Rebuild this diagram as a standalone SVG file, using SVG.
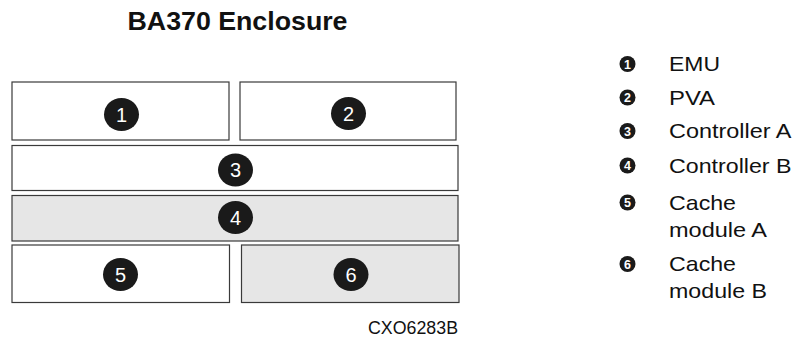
<svg xmlns="http://www.w3.org/2000/svg" width="803" height="338" viewBox="0 0 803 338">
<style>
.box{stroke:#3a3a3a;stroke-width:1.2}
.w{fill:#ffffff}
.g{fill:#e6e6e6}
.dot{fill:#1a1a1a}
.num{font-family:"Liberation Sans",Arial,sans-serif;font-size:20px;fill:#ffffff;text-anchor:middle}
.bn{font-family:"Liberation Sans",Arial,sans-serif;font-size:12.5px;font-weight:bold;fill:#ffffff;text-anchor:middle}
.lg{font-family:"Liberation Sans",Arial,sans-serif;font-size:21px;fill:#111111}
.title{font-family:"Liberation Sans",Arial,sans-serif;font-size:25px;font-weight:bold;fill:#111111}
.ref{font-family:"Liberation Sans",Arial,sans-serif;font-size:18px;fill:#111111}
</style>
<rect width="803" height="338" fill="#ffffff"/>
<text class="title" x="127.5" y="30" textLength="220" lengthAdjust="spacingAndGlyphs">BA370 Enclosure</text>

<g id="node-1">
<rect class="box w" x="12" y="82" width="217" height="58"/>
<ellipse class="dot" cx="121.5" cy="114.5" rx="17.5" ry="16.5"/>
<text class="num" x="121.5" y="121.5">1</text>
</g>
<g id="node-2">
<rect class="box w" x="240" y="82" width="216" height="58"/>
<ellipse class="dot" cx="348.5" cy="113.5" rx="17.5" ry="16.5"/>
<text class="num" x="348.5" y="120.5">2</text>
</g>
<g id="node-3">
<rect class="box w" x="12" y="145.5" width="446" height="45"/>
<ellipse class="dot" cx="235.5" cy="170" rx="17.5" ry="16.5"/>
<text class="num" x="235.5" y="177">3</text>
</g>
<g id="node-4">
<rect class="box g" x="12" y="195.5" width="446" height="45.5"/>
<ellipse class="dot" cx="235.5" cy="217.5" rx="17.5" ry="16.5"/>
<text class="num" x="235.5" y="224.5">4</text>
</g>
<g id="node-5">
<rect class="box w" x="12" y="245" width="217.5" height="57.5"/>
<ellipse class="dot" cx="120.5" cy="274.5" rx="17.5" ry="16.5"/>
<text class="num" x="120.5" y="281.5">5</text>
</g>
<g id="node-6">
<rect class="box g" x="241.5" y="245" width="217.5" height="57.5"/>
<ellipse class="dot" cx="351" cy="274.5" rx="17.5" ry="16.5"/>
<text class="num" x="351" y="281.5">6</text>
</g>

<g id="connectors"></g>

<g id="legend">
<ellipse class="dot" cx="627.5" cy="64" rx="8" ry="8"/>
<text class="bn" x="627.5" y="68.5">1</text>
<text class="lg" x="669" y="71" textLength="51" lengthAdjust="spacingAndGlyphs">EMU</text>

<ellipse class="dot" cx="627.5" cy="97.5" rx="8" ry="8"/>
<text class="bn" x="627.5" y="102">2</text>
<text class="lg" x="669" y="104.5" textLength="46" lengthAdjust="spacingAndGlyphs">PVA</text>

<ellipse class="dot" cx="627.5" cy="131" rx="8" ry="8"/>
<text class="bn" x="627.5" y="135.5">3</text>
<text class="lg" x="669" y="138" textLength="122.5" lengthAdjust="spacingAndGlyphs">Controller A</text>

<ellipse class="dot" cx="627.5" cy="165.5" rx="8" ry="8"/>
<text class="bn" x="627.5" y="170">4</text>
<text class="lg" x="669" y="172.5" textLength="122.5" lengthAdjust="spacingAndGlyphs">Controller B</text>

<ellipse class="dot" cx="627.5" cy="202.5" rx="8" ry="8"/>
<text class="bn" x="627.5" y="207">5</text>
<text class="lg" x="669" y="209.5" textLength="67" lengthAdjust="spacingAndGlyphs">Cache</text>
<text class="lg" x="669" y="236.5" textLength="98" lengthAdjust="spacingAndGlyphs">module A</text>

<ellipse class="dot" cx="627.5" cy="264" rx="8" ry="8"/>
<text class="bn" x="627.5" y="268.5">6</text>
<text class="lg" x="669" y="271" textLength="67" lengthAdjust="spacingAndGlyphs">Cache</text>
<text class="lg" x="669" y="297.5" textLength="98" lengthAdjust="spacingAndGlyphs">module B</text>
</g>

<text class="ref" x="368" y="334" textLength="90" lengthAdjust="spacingAndGlyphs">CXO6283B</text>
</svg>
